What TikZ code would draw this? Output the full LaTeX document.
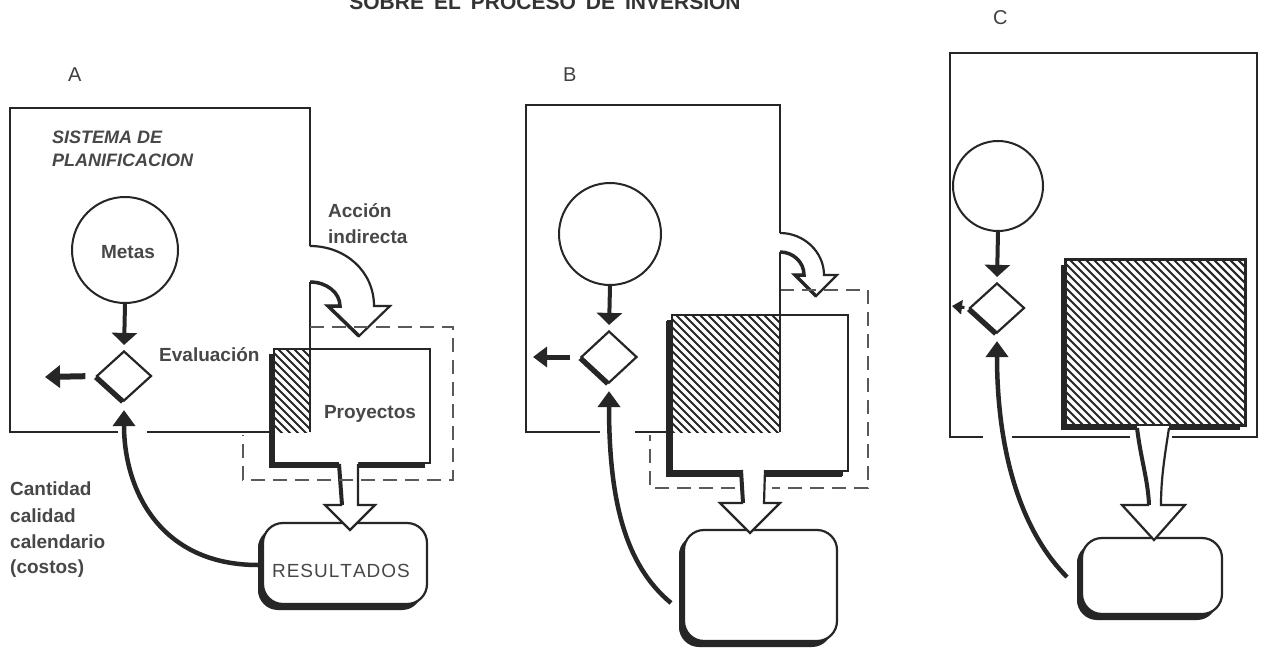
\documentclass[tikz,border=0pt]{standalone}
\usepackage{fontspec}
\setmainfont{Liberation Sans}
\usetikzlibrary{arrows.meta,shapes.geometric,shadows}
\newcommand\hatchzone[4]{%
  \begin{scope}
    \clip (#1,#2) rectangle (#3,#4);
    \foreach \i in {0,...,52}{\draw[hatchln] ({#1-190+\i*8},{#2-2}) -- ++(200,200);}
  \end{scope}}
\begin{document}
\begin{tikzpicture}[x=1pt,y=-1pt,
  ln/.style={draw=black!85, line width=2.2pt},
  thk/.style={draw=black!85, line width=4pt},
  shbox/.style={rectangle, draw=black!85, line width=2.2pt, fill=white, inner sep=0pt,
     drop shadow={shadow xshift=-5pt, shadow yshift=-5pt, fill=black!85, opacity=1}},
  resbox/.style={shbox, rounded corners=20pt,
     drop shadow={shadow xshift=-5pt, shadow yshift=-6pt, fill=black!85, opacity=1}},
  goal/.style={circle, draw=black!85, line width=2pt, fill=white, inner sep=0pt},
  dec/.style={diamond, draw=black!85, line width=2.2pt, fill=white, inner sep=0pt,
     drop shadow={shadow xshift=-3pt, shadow yshift=-3pt, fill=black!85, opacity=1}},
  downarr/.style={draw=black!85, line width=4pt, -{Triangle[width=25pt,length=12pt]}},
  outarr/.style={draw=black!85, line width=6pt, -{Triangle[width=22pt,length=15pt]}},
  fbk/.style={draw=black!85, line width=4.5pt, -{Triangle[width=22pt,length=16pt]}},
  dsh/.style={draw=black!65, line width=2.8pt, dash pattern=on 14pt off 8pt},
  hatchln/.style={draw=black!85, line width=2.1pt},
  lbl/.style={text=black!72, font=\fontsize{19}{23}\selectfont\bfseries, inner sep=0pt},
  lblr/.style={text=black!72, font=\fontsize{19}{23}\selectfont, inner sep=0pt},
  letter/.style={text=black!75, font=\fontsize{20}{24}\selectfont, inner sep=0pt}
]
\useasboundingbox (0,0) rectangle (1263,650);
\fill[white] (0,0) rectangle (1263,650);

% title (cut at the top edge, as in the reference)
\node[font=\fontsize{21}{25}\selectfont\bfseries, text=black!80, anchor=base, inner sep=0pt] (title) at (545,10)
  {SOBRE\hspace{10pt}EL\hspace{10pt}PROCESO\hspace{10pt}DE\hspace{10pt}INVERSION};

\node[letter, anchor=base west] (labA) at (68,82) {A};
\node[letter, anchor=base west] (labB) at (563,82) {B};
\node[letter, anchor=base west] (labC) at (993,25) {C};

% ================= PANEL A =================
\draw[ln] (310,246) -- (310,108) -- (10,108) -- (10,432) -- (118,432);
\draw[ln] (147,432) -- (274,432);

% curved hollow arrow (Accion indirecta)
\filldraw[ln, fill=white] (310,246) .. controls (345,246) and (374,271) .. (374,306) -- (390,306) -- (359,336) -- (328,306) -- (340,306) .. controls (340,293) and (327,282) .. (310,282);
\draw[draw=black!85, line width=3.5pt] (310,282) .. controls (327,282) and (340,293) .. (340,306) -- (328,306) -- (359,336);

% projects box
\node[shbox, minimum width=156pt, minimum height=114pt] (proA) at (352,406) {};
\hatchzone{274}{349}{310}{432}
\draw[ln] (310,282) -- (310,432);
\node[lbl, anchor=base] (tproA) at (370,418) {Proyectos};

% results box
\node[resbox, minimum width=164pt, minimum height=81pt] (resA) at (345,563.5) {};
\node[lblr, anchor=base] (tresA) at (341,577) {R\hspace{1pt}E\hspace{1pt}S\hspace{1pt}U\hspace{1pt}L\hspace{1pt}T\hspace{1pt}A\hspace{1pt}D\hspace{1pt}O\hspace{1pt}S};

% hollow down arrow
\fill[white] (339,460) -- (342,505) -- (325,505) -- (350,530) -- (375,505) -- (358,505) -- (358,460) -- cycle;
\draw[ln] (358,464) -- (358,505) -- (375,505) -- (350,530) -- (325,505) -- (342,505);
\draw[thk] (339,464) -- (342,505);

% dashed frame
\draw[dsh] (310,327) -- (453,327) -- (453,480) -- (243,480) -- (243,435);

% goals, decision
\node[goal, minimum size=106pt] (cirA) at (125,250) {};
\node[lbl, anchor=base] (tcirA) at (128,258) {Metas};
\node[dec, minimum width=55pt, minimum height=50pt] (diaA) at (124,376) {};
\draw[downarr, shorten >=5pt] (cirA.south) -- (diaA.north);
\coordinate (oA) at (45,377);
\draw[outarr, shorten <=10pt] (diaA.west) -- (oA);
\coordinate (fA) at (258,565);
\draw[fbk, shorten >=8pt] (fA) .. controls (160,565) and (124,490) .. (diaA.south);

% texts A
\node[font=\fontsize{18}{22}\selectfont\bfseries\itshape, text=black!72, anchor=base west, inner sep=0pt] (tsis1) at (52,143) {SISTEMA DE};
\node[font=\fontsize{18}{22}\selectfont\bfseries\itshape, text=black!72, anchor=base west, inner sep=0pt] (tsis2) at (52,166) {PLANIFICACION};
\node[lbl, anchor=base west] (tacc1) at (328,217) {Acción};
\node[lbl, anchor=base west] (tacc2) at (328,243) {indirecta};
\node[lbl, anchor=base west] (teval) at (159,361) {Evaluación};
\node[lbl, anchor=base west] (tc1) at (10,495) {Cantidad};
\node[lbl, anchor=base west] (tc2) at (10,522) {calidad};
\node[lbl, anchor=base west] (tc3) at (10,548) {calendario};
\node[lbl, anchor=base west] (tc4) at (10,573) {(costos)};

% ================= PANEL B =================
\draw[ln] (780,233) -- (780,105) -- (526,105) -- (526,432) -- (600,432);
\draw[ln] (635,432) -- (672,432);

\filldraw[ln, fill=white] (780,233) .. controls (804,233) and (824,252) .. (824,275) -- (837,275) -- (816,296) -- (795,275) -- (804,275) .. controls (804,262) and (793,252) .. (780,252);
\draw[draw=black!85, line width=3.5pt] (780,252) .. controls (793,252) and (804,262) .. (804,275) -- (795,275) -- (816,296);

\draw[dsh] (780,290) -- (868,290) -- (868,488) -- (772,488);
\draw[dsh] (735,488) -- (650,488) -- (650,435);

\node[shbox, minimum width=176pt, minimum height=156pt, drop shadow={shadow xshift=-6pt, shadow yshift=-6pt, fill=black!85, opacity=1}] (proB) at (760,393) {};
\hatchzone{673}{316}{780}{432}
\draw[ln] (780,252) -- (780,432);

\node[resbox, minimum width=153pt, minimum height=111pt] (resB) at (760.5,585.5) {};

\fill[white] (741,464) -- (743,503) -- (720,503) -- (750,533) -- (780,503) -- (764,503) -- (765,464) -- cycle;
\draw[ln] (765,470) -- (764,503) -- (780,503) -- (750,533) -- (720,503) -- (743,503);
\draw[thk] (741,470) -- (743,503);

\node[goal, minimum size=102pt] (cirB) at (610,234) {};
\node[dec, minimum width=56pt, minimum height=52pt] (diaB) at (609,357) {};
\draw[downarr, shorten >=5pt] (cirB.south) -- (diaB.north);
\coordinate (oB) at (533,357);
\draw[draw=black!85, line width=5pt, -{Triangle[width=20pt,length=14pt]}, shorten <=10pt] (diaB.west) -- (oB);
\coordinate (fB) at (671,603);
\draw[fbk, shorten >=7pt] (fB) .. controls (625,565) and (609,500) .. (diaB.south);

% ================= PANEL C =================
\draw[ln] (983,437) -- (950,437) -- (950,53) -- (1257,53) -- (1257,437) -- (1172,437);
\draw[ln] (1012,437) -- (1130,437);

\node[shbox, minimum width=179pt, minimum height=165pt] (proC) at (1155.5,342.5) {};
\hatchzone{1067}{261}{1244}{424}
\draw[ln] (proC.north west) rectangle (proC.south east);

\node[resbox, minimum width=140pt, minimum height=76pt] (resC) at (1152,576) {};

\fill[white] (1137,426) .. controls (1141,460) and (1148,480) .. (1149,505) -- (1122,505) -- (1154,540) -- (1185,505) -- (1161,505) .. controls (1161,480) and (1164,460) .. (1169,426) -- cycle;
\draw[ln] (1169,428) .. controls (1164,460) and (1161,480) .. (1161,505) -- (1185,505) -- (1154,540) -- (1122,505) -- (1149,505);
\draw[thk] (1137,428) .. controls (1141,460) and (1148,480) .. (1149,505);

\node[goal, minimum size=90pt] (cirC) at (998,186) {};
\node[dec, minimum width=55pt, minimum height=50pt] (diaC) at (997,308) {};
\draw[downarr, shorten >=5pt] (cirC.south) -- (diaC.north);
\coordinate (oC) at (952,306);
\draw[draw=black!85, line width=3pt, -{Triangle[width=14pt,length=10pt]}, shorten <=4pt] (diaC.west) -- (oC);
\coordinate (fC) at (1067,577);
\draw[fbk, shorten >=7pt] (fC) .. controls (1020,530) and (997,450) .. (diaC.south);

\end{tikzpicture}
\end{document}
